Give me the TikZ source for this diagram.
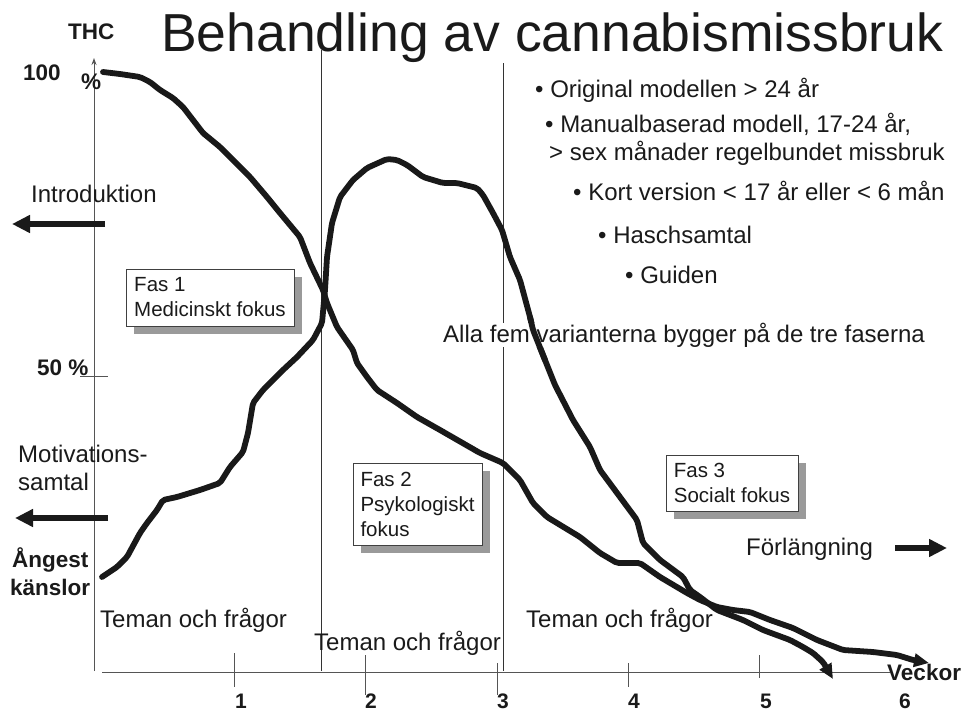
\documentclass[tikz,border=0pt]{standalone}
\usepackage{fontspec}
\setmainfont{Liberation Sans}
\usetikzlibrary{arrows.meta,shadows}
\definecolor{ink}{HTML}{1A1A1A}
\definecolor{axisgray}{HTML}{555555}
\definecolor{shadowgray}{HTML}{9A9A9A}
\tikzset{
  txt/.style={inner sep=0pt, anchor=base west, text=ink, font=\fontsize{24}{28}\selectfont},
  btxt/.style={inner sep=0pt, anchor=base west, text=ink, font=\fontsize{22.5}{26}\selectfont\bfseries},
  ticklab/.style={inner sep=0pt, anchor=base, text=ink, font=\fontsize{21}{25}\selectfont\bfseries},
  fasbox/.style={draw=black!75, line width=0.9pt, fill=white, align=left, inner sep=0pt,
    text=ink, font=\fontsize{20.5}{25}\selectfont,
    drop shadow={shadow xshift=8pt, shadow yshift=-8pt, fill=shadowgray, opacity=1}},
  curve/.style={line width=5.8pt, black!90, line join=round, line cap=round, rounded corners=2pt},
  bigarrow/.style={line width=6pt, ink, -{Triangle[length=18pt,width=17pt]}},
  thinline/.style={line width=0.8pt, black!80},
  axisline/.style={line width=0.9pt, axisgray},
}
\begin{document}
\begin{tikzpicture}[x=1pt,y=-1pt]
\useasboundingbox[fill=white] (0,0) rectangle (966,712);

% title
\node[inner sep=0pt, anchor=base west, text=ink, font=\fontsize{53.5}{60}\selectfont] (title) at (161,51) {Behandling av cannabismissbruk};

% axes
\coordinate (yb) at (94,671);
\coordinate (yt) at (94,58);
\draw[axisline, -{Stealth[length=7pt,width=5pt]}] (yb) -- (yt);
\coordinate (xa) at (102,672);
\coordinate (xb) at (890,672);
\draw[axisline] (xa) -- (xb);

% phase separators
\coordinate (s1t) at (321,50); \coordinate (s1b) at (321,671);
\coordinate (s2t) at (503,63); \coordinate (s2b) at (503,671);
\draw[thinline] (s1t) -- (s1b);
\draw[thinline] (s2t) -- (s2b);

% ticks
\draw[axisline] (234,653) -- (234,687);
\draw[axisline] (365,655) -- (365,695);
\draw[axisline] (497,663) -- (497,695);
\draw[axisline] (628,663) -- (628,687);
\draw[axisline] (759,655) -- (759,678);
\draw[axisline] (80,376) -- (108,376);

% tick labels
\node[ticklab] (t1) at (241,708) {1};
\node[ticklab] (t2) at (371,708) {2};
\node[ticklab] (t3) at (503,708) {3};
\node[ticklab] (t4) at (634,708) {4};
\node[ticklab] (t5) at (766,708) {5};
\node[ticklab] (t6) at (905,708) {6};

% axis labels
\node[btxt] (thc) at (68,39) {THC};
\node[btxt] (hundred) at (23,80) {100};
\node[btxt] (pct) at (81,89) {\%};
\node[btxt] (fifty) at (37,375) {50 \%};
\node[btxt] (veckor) at (887,680) {Veckor};

% left texts
\node[txt] (intro) at (31,202) {Introduktion};
\node[txt] (motiv) at (18,462) {Motivations-};
\node[txt] (samtal) at (18,490) {samtal};
\node[btxt] (angest) at (12,567) {Ångest};
\node[btxt] (kanslor) at (10,595) {känslor};

% arrows
\coordinate (a1s) at (105,224); \coordinate (a1e) at (12,224);
\draw[bigarrow] (a1s) -- (a1e);
\coordinate (a2s) at (108,518); \coordinate (a2e) at (15,518);
\draw[bigarrow] (a2s) -- (a2e);
\node[txt] (forl) at (746,555) {Förlängning};
\coordinate (a3s) at (895,548); \coordinate (a3e) at (947,548);
\draw[bigarrow] (a3s) -- (a3e);

% themes
\node[txt] (tema1) at (100,627) {Teman och frågor};
\node[txt] (tema2) at (314,650) {Teman och frågor};
\node[txt] (tema3) at (526,627) {Teman och frågor};

% bullet list
\node[txt] (b1) at (535,97) {• Original modellen > 24 år};
\node[txt] (b2) at (545,132) {• Manualbaserad modell, 17-24 år,};
\node[txt] (b2b) at (549,160) {> sex månader regelbundet missbruk};
\node[txt] (b3) at (573,200) {• Kort version < 17 år eller < 6 mån};
\node[txt] (b4) at (598,243) {• Haschsamtal};
\node[txt] (b5) at (625,283) {• Guiden};

% curves
\draw[curve, -{Triangle[length=15pt,width=13pt]}]
 (103,72) -- (120,74) -- (140,77) -- (150,82) -- (160,90) -- (173,98) -- (183,107) -- (193,120)
 -- (203,133) -- (220,147) -- (233,160) -- (250,177) -- (267,197) -- (280,213) -- (300,237)
 -- (310,263) -- (323,290) -- (327,303) -- (337,327) -- (353,350) -- (357,363) -- (367,377)
 -- (377,390) -- (397,403) -- (417,417) -- (440,430) -- (480,453) -- (503,463) -- (520,480)
 -- (533,503) -- (547,517) -- (580,537) -- (600,553) -- (617,563) -- (640,563) -- (660,577)
 -- (687,593) -- (700,600) -- (717,607) -- (733,610) -- (750,612) -- (770,620) -- (793,628)
 -- (817,640) -- (843,650) -- (873,652) -- (897,655) -- (913,660) -- (929,663);
\draw[curve, -{Triangle[length=15pt,width=13pt]}]
 (102,577) -- (117,567) -- (127,557) -- (140,533) -- (147,523) -- (157,510) -- (163,500)
 -- (177,497) -- (200,490) -- (220,483) -- (230,467) -- (243,452) -- (248,433) -- (253,403)
 -- (263,390) -- (283,370) -- (297,357) -- (313,340) -- (322,323) -- (325,290) -- (327,257)
 -- (332,223) -- (340,197) -- (353,180) -- (367,168) -- (387,159) -- (397,160) -- (407,165)
 -- (423,177) -- (443,183) -- (457,183) -- (477,188) -- (483,195) -- (493,213) -- (502,230)
 -- (510,257) -- (520,280) -- (530,317) -- (533,330) -- (545,360) -- (555,385) -- (573,420)
 -- (590,447) -- (600,470) -- (620,497) -- (637,520) -- (643,543) -- (660,560) -- (683,577)
 -- (690,590) -- (700,597) -- (717,610) -- (743,620) -- (763,630) -- (790,640) -- (803,647)
 -- (813,653) -- (823,662) -- (833,679);

\node[txt, fill=white, inner sep=0pt] (alla) at (443,342) {Alla fem varianterna bygger på de tre faserna};
\draw[curve] (530,317) -- (533,330) -- (545,360);

% phase boxes
\node[fasbox, minimum width=168pt, minimum height=57pt] (fas1) at (210,297.5) {Fas 1\\Medicinskt fokus};
\node[fasbox, minimum width=129pt, minimum height=82pt] (fas2) at (417.5,504) {Fas 2\\Psykologiskt\\fokus};
\node[fasbox, minimum width=132pt, minimum height=56pt] (fas3) at (732,483) {Fas 3\\Socialt fokus};
\end{tikzpicture}
\end{document}
